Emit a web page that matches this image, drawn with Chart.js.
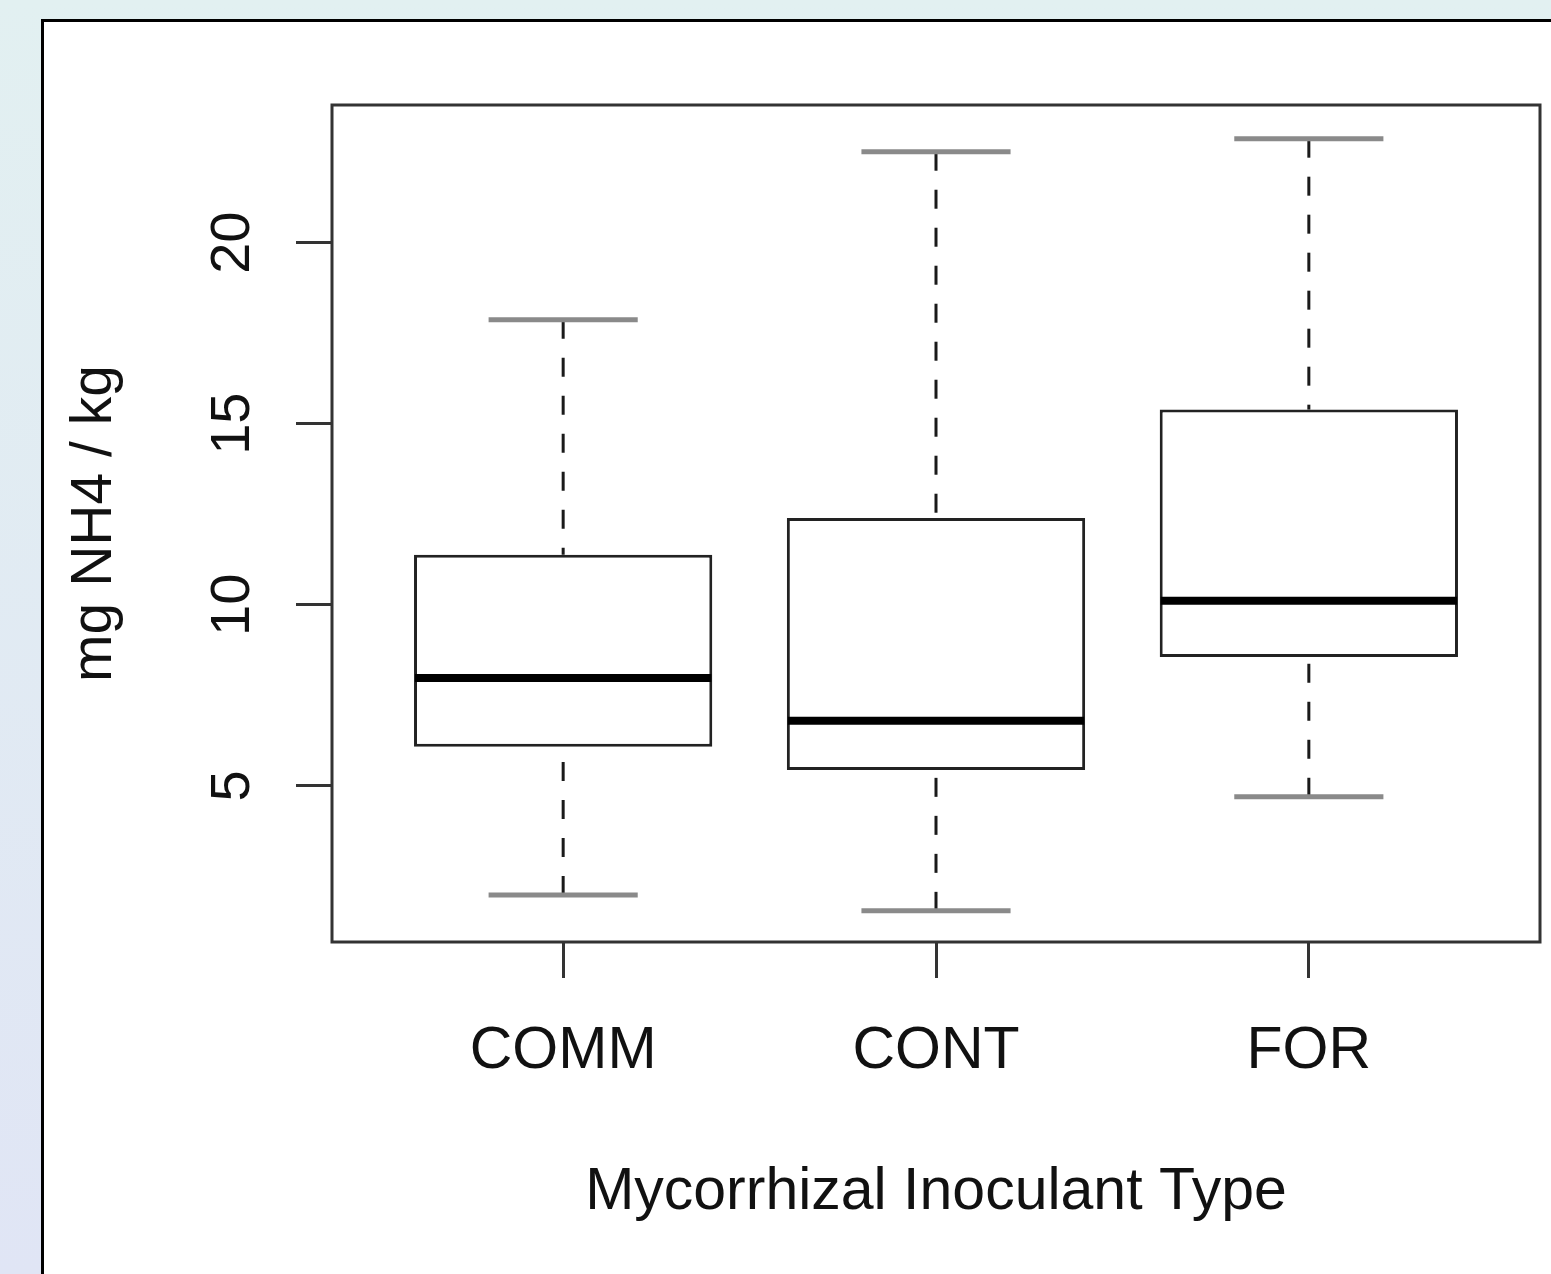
<!DOCTYPE html>
<html>
<head>
<meta charset="utf-8">
<script src="https://cdn.jsdelivr.net/npm/chart.js@4/dist/chart.umd.min.js"></script>
<style>
  html, body { margin: 0; padding: 0; }
  body {
    width: 1551px; height: 1274px; overflow: hidden; position: relative;
    background: linear-gradient(to bottom, #e2f0f1, #e0e5f5);
  }
  #panel {
    position: absolute; left: 41px; top: 19px; width: 1600px; height: 1400px;
    background: #fff; border-left: 3px solid #000; border-top: 3px solid #000;
  }
  #boxChart { position: absolute; left: 0; top: 0; }
</style>
</head>
<body>
<div id="panel"></div>
<canvas id="boxChart" width="1551" height="1274"></canvas>
<script>
(function () {
    const categories = ['COMM', 'CONT', 'FOR'];
    const whiskerLow = [1.99, 1.55, 4.70];
    const q1 = [6.08, 5.44, 8.56];
    const median = [7.98, 6.80, 10.11];
    const q3 = [11.38, 12.40, 15.39];
    const whiskerHigh = [17.87, 22.51, 22.87];
    const yTicks = [5, 10, 15, 20];

    const textColor = '#111';
    const fontFamily = '"Liberation Sans", Arial, Helvetica, sans-serif';

    // whiskers, staples, medians and the plot frame
    const boxParts = {
        id: 'boxParts',
        afterDatasetsDraw(chart) {
            const { ctx, chartArea, scales: { x, y } } = chart;
            const bars = chart.getDatasetMeta(0).data;

            function line(x1, y1, x2, y2) {
                ctx.beginPath();
                ctx.moveTo(x1, y1);
                ctx.lineTo(x2, y2);
                ctx.stroke();
            }

            ctx.save();
            for (let i = 0; i < categories.length; i++) {
                const cx = x.getPixelForValue(i + 1);
                const half = bars[i].width / 2;
                const yHi = y.getPixelForValue(whiskerHigh[i]);
                const yLo = y.getPixelForValue(whiskerLow[i]);

                ctx.strokeStyle = '#1a1a1a';
                ctx.lineWidth = 3;
                ctx.setLineDash([19, 19]);
                line(cx, yHi, cx, y.getPixelForValue(q3[i]));
                line(cx, yLo, cx, y.getPixelForValue(q1[i]));
                ctx.setLineDash([]);

                ctx.strokeStyle = '#8a8a8a';
                ctx.lineWidth = 5;
                line(cx - half / 2, yHi, cx + half / 2, yHi);
                line(cx - half / 2, yLo, cx + half / 2, yLo);

                ctx.strokeStyle = '#000';
                ctx.lineWidth = 8;
                const ym = y.getPixelForValue(median[i]);
                line(cx - half + 1, ym, cx + half - 1, ym);
            }

            ctx.strokeStyle = '#333';
            ctx.lineWidth = 3;
            ctx.strokeRect(chartArea.left, chartArea.top,
                chartArea.right - chartArea.left, chartArea.bottom - chartArea.top);
            ctx.restore();
        }
    };

    const boxData = categories.map(function (c, i) {
        return { x: i + 1, y: [q1[i], q3[i]] };
    });

    const ctx = document.getElementById('boxChart').getContext('2d');

    new Chart(ctx, {
        type: 'bar',
        data: {
            datasets: [{
                data: boxData,
                backgroundColor: '#fff',
                borderColor: '#222',
                borderWidth: 3,
                borderSkipped: false,
                barPercentage: 0.8,
                categoryPercentage: 1
            }]
        },
        options: {
            responsive: false,
            animation: false,
            layout: { padding: { left: 0, top: 105, right: 11, bottom: 0 } },
            plugins: {
                legend: { display: false },
                tooltip: { enabled: false }
            },
            scales: {
                x: {
                    type: 'linear',
                    min: 0.38,
                    max: 3.62,
                    offset: false,
                    afterBuildTicks: function (scale) {
                        scale.ticks = categories.map(function (c, i) { return { value: i + 1 }; });
                    },
                    afterFit: function (scale) { scale.height = 332; },
                    grid: {
                        offset: false,
                        drawOnChartArea: false,
                        tickLength: 36,
                        tickWidth: 3,
                        tickColor: '#333'
                    },
                    border: { display: false },
                    ticks: {
                        padding: 38,
                        color: textColor,
                        font: { family: fontFamily, size: 59 },
                        maxRotation: 0,
                        autoSkip: false,
                        callback: function (v) { return categories[v - 1]; }
                    },
                    title: {
                        display: true,
                        text: 'Mycorrhizal Inoculant Type',
                        color: textColor,
                        font: { family: fontFamily, size: 59 },
                        padding: { top: 0, bottom: 46 }
                    }
                },
                y: {
                    min: 0.69,
                    max: 23.8,
                    afterBuildTicks: function (scale) {
                        scale.ticks = yTicks.map(function (v) { return { value: v }; });
                    },
                    afterFit: function (scale) { scale.width = 332; },
                    grid: {
                        drawOnChartArea: false,
                        tickLength: 36,
                        tickWidth: 3,
                        tickColor: '#333'
                    },
                    border: { display: false },
                    ticks: {
                        padding: 31,
                        crossAlign: 'center',
                        minRotation: 90,
                        maxRotation: 90,
                        color: textColor,
                        font: { family: fontFamily, size: 56 }
                    },
                    title: {
                        display: true,
                        text: 'mg NH4 / kg',
                        color: textColor,
                        font: { family: fontFamily, size: 57 },
                        padding: { top: 61, bottom: 0 }
                    }
                }
            }
        },
        plugins: [boxParts]
    });
})();
</script>
</body>
</html>
